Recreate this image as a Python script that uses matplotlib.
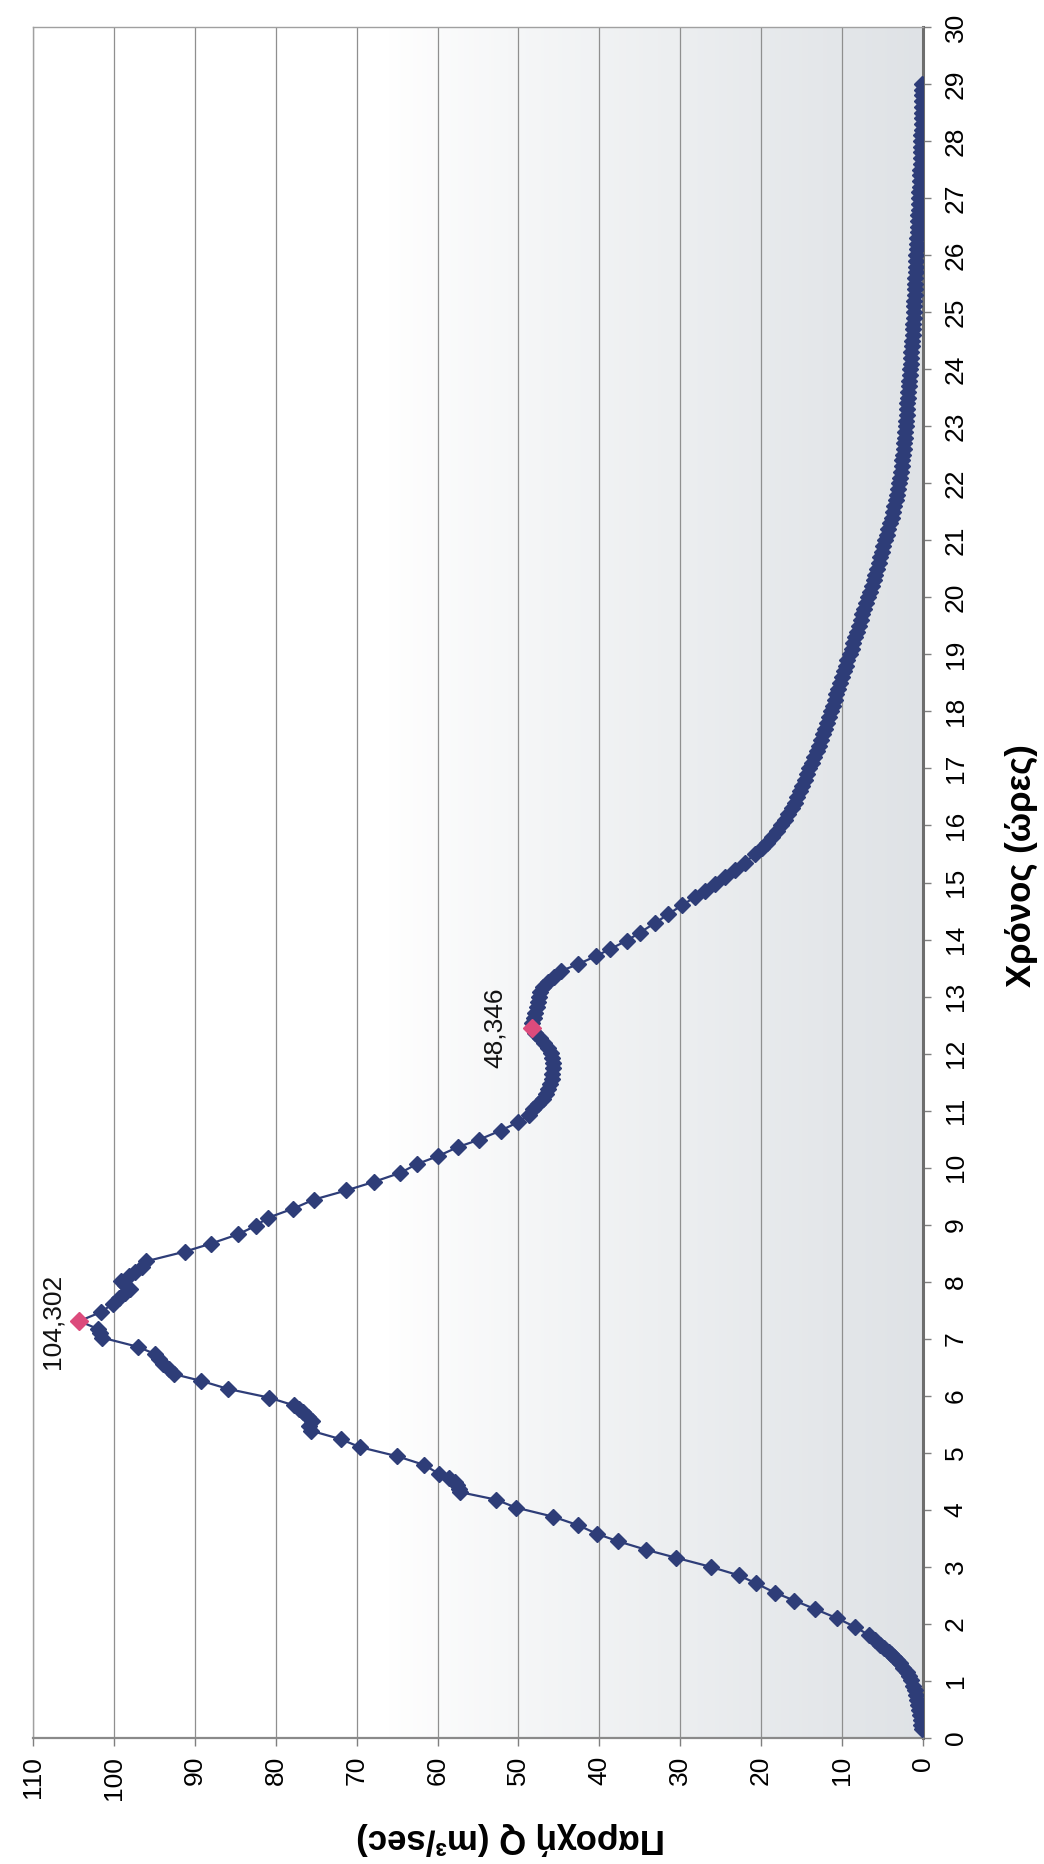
import matplotlib
matplotlib.use("Agg")
import matplotlib.pyplot as plt
import numpy as np

# Hydrograph: discharge Q (m3/s) against time (hours)
time_h = [
    0.15, 0.23, 0.31, 0.40, 0.49, 0.57, 0.66, 0.75, 0.84, 0.92,
    1.01, 1.08, 1.16, 1.23, 1.31, 1.37, 1.42, 1.47, 1.51, 1.57,
    1.63, 1.71, 1.80, 1.95, 2.10, 2.26, 2.41, 2.55, 2.71, 2.85,
    3.00, 3.16, 3.30, 3.45, 3.58, 3.73, 3.88, 4.04, 4.18, 4.31,
    4.37, 4.43, 4.49, 4.55, 4.63, 4.79, 4.94, 5.10, 5.24, 5.39,
    5.47, 5.56, 5.63, 5.71, 5.77, 5.83, 5.97, 6.12, 6.26, 6.38,
    6.47, 6.56, 6.65, 6.73, 6.86, 7.02, 7.10, 7.17, 7.31, 7.47,
    7.61, 7.72, 7.80, 7.87, 7.95, 8.02, 8.10, 8.17, 8.25, 8.36,
    8.53, 8.67, 8.83, 8.98, 9.12, 9.28, 9.44, 9.60, 9.75, 9.91,
    10.06, 10.20, 10.36, 10.49, 10.65, 10.80, 10.93, 11.03, 11.11, 11.20,
    11.29, 11.38, 11.47, 11.56, 11.65, 11.74, 11.83, 11.92, 12.01, 12.10,
    12.19, 12.28, 12.37, 12.45, 12.54, 12.63, 12.72, 12.81, 12.90, 12.99,
    13.08, 13.17, 13.26, 13.35, 13.45, 13.57, 13.71, 13.83, 13.98, 14.12,
    14.29, 14.44, 14.60, 14.74, 14.85, 14.97, 15.09, 15.22, 15.35, 15.50,
    15.6, 15.7, 15.8, 15.9, 16.0, 16.1, 16.2, 16.3, 16.4, 16.5,
    16.6, 16.7, 16.8, 16.9, 17.0, 17.1, 17.2, 17.3, 17.4, 17.5,
    17.6, 17.7, 17.8, 17.9, 18.0, 18.1, 18.2, 18.3, 18.4, 18.5,
    18.6, 18.7, 18.8, 18.9, 19.0, 19.1, 19.2, 19.3, 19.4, 19.5,
    19.6, 19.7, 19.8, 19.9, 20.0, 20.1, 20.2, 20.3, 20.4, 20.5,
    20.6, 20.7, 20.8, 20.9, 21.0, 21.1, 21.2, 21.3, 21.4, 21.5,
    21.6, 21.7, 21.8, 21.9, 22.0, 22.1, 22.2, 22.3, 22.4, 22.5,
    22.6, 22.7, 22.8, 22.9, 23.0, 23.1, 23.2, 23.3, 23.4, 23.5,
    23.6, 23.7, 23.8, 23.9, 24.0, 24.1, 24.2, 24.3, 24.4, 24.5,
    24.6, 24.7, 24.8, 24.9, 25.0, 25.1, 25.2, 25.3, 25.4, 25.5,
    25.6, 25.7, 25.8, 25.9, 26.0, 26.1, 26.2, 26.3, 26.4, 26.5,
    26.6, 26.7, 26.8, 26.9, 27.0, 27.1, 27.2, 27.3, 27.4, 27.5,
    27.6, 27.7, 27.8, 27.9, 28.0, 28.1, 28.2, 28.3, 28.4, 28.5,
    28.6, 28.7, 28.8, 28.9, 29.0,
]

flow_q = [
    0.10, 0.16, 0.25, 0.33, 0.41, 0.52, 0.66, 0.80, 0.95, 1.15,
    1.40, 1.68, 2.00, 2.40, 2.80, 3.20, 3.60, 3.95, 4.20, 4.75,
    5.30, 5.95, 6.60, 8.40, 10.6, 13.3, 15.9, 18.3, 20.6, 22.7,
    26.2, 30.5, 34.2, 37.7, 40.3, 42.6, 45.7, 50.3, 52.8, 57.2,
    57.4, 57.6, 57.9, 58.6, 59.8, 61.7, 65.0, 69.6, 72.0, 75.7,
    75.9, 75.5, 76.0, 76.7, 77.2, 77.7, 80.9, 85.9, 89.2, 92.6,
    93.2, 93.9, 94.4, 94.9, 97.1, 101.5, 101.8, 102.0, 104.302, 101.6,
    100.2, 99.4, 98.6, 98.0, 98.6, 99.1, 98.2, 97.4, 96.6, 96.0,
    91.2, 88.0, 84.7, 82.5, 81.0, 77.9, 75.3, 71.3, 67.9, 64.6,
    62.6, 60.0, 57.5, 54.9, 52.2, 50.0, 48.7, 48.2, 47.6, 47.0,
    46.6, 46.3, 46.1, 45.9, 45.8, 45.7, 45.7, 45.8, 46.0, 46.3,
    46.8, 47.3, 47.9, 48.346, 48.3, 48.1, 47.9, 47.7, 47.6, 47.5,
    47.3, 47.0, 46.4, 45.6, 44.7, 42.6, 40.4, 38.7, 36.6, 35.0,
    33.1, 31.5, 29.8, 28.2, 26.9, 25.7, 24.5, 23.2, 22.0, 20.7,
    19.9, 19.2, 18.6, 18.0, 17.5, 17.0, 16.6, 16.2, 15.8, 15.5,
    15.2, 14.9, 14.6, 14.3, 14.0, 13.7, 13.4, 13.1, 12.85, 12.6,
    12.35, 12.1, 11.85, 11.6, 11.4, 11.15, 10.9, 10.7, 10.45, 10.2,
    10.0, 9.75, 9.5, 9.3, 9.05, 8.8, 8.6, 8.35, 8.1, 7.9,
    7.65, 7.45, 7.2, 7.0, 6.75, 6.5, 6.25, 6.05, 5.85, 5.65,
    5.45, 5.25, 5.05, 4.85, 4.65, 4.45, 4.25, 4.05, 3.85, 3.65,
    3.5, 3.35, 3.2, 3.05, 2.92, 2.8, 2.7, 2.6, 2.5, 2.43,
    2.36, 2.3, 2.24, 2.18, 2.12, 2.06, 2.0, 1.94, 1.88, 1.82,
    1.76, 1.7, 1.65, 1.6, 1.55, 1.5, 1.45, 1.4, 1.35, 1.3,
    1.25, 1.2, 1.16, 1.12, 1.08, 1.05, 1.02, 0.99, 0.96, 0.93,
    0.90, 0.87, 0.83, 0.80, 0.77, 0.73, 0.70, 0.67, 0.63, 0.60,
    0.57, 0.54, 0.51, 0.48, 0.45, 0.42, 0.39, 0.36, 0.33, 0.30,
    0.27, 0.24, 0.21, 0.19, 0.17, 0.15, 0.13, 0.11, 0.10, 0.08,
    0.07, 0.06, 0.05, 0.04, 0.03,
]

# Highlighted peaks (main peak and secondary peak)
peak_times = [7.31, 12.45]
peak_flows = [104.302, 48.346]
peak_label_offsets = [-11, -18]

q_ticks = list(range(0, 111, 10))
t_ticks = list(range(0, 31))
q_axis_title = "Παροχή Q (m³/sec)"
t_axis_title = "Χρόνος (ώρες)"

plt.rcParams['font.family'] = ['Liberation Sans', 'DejaVu Sans']

navy = '#2e3d78'
pink = '#dc4b7c'

fig = plt.figure(figsize=(10.44, 18.64), dpi=100)
ax = fig.add_axes([0.0319, 0.0676, 0.8519, 0.9179])

# Plot-area fill: white fading to a light grey-blue towards Q = 0
u = np.linspace(0, 1, 256)
w = np.clip((u - 0.40) / 0.60, 0, 1) ** 0.85
c0 = np.array([1.0, 1.0, 1.0])
c1 = np.array([0.875, 0.888, 0.902])
rgb = c0[None, :] * (1 - w[:, None]) + c1[None, :] * w[:, None]
img = np.tile(rgb[None, :, :], (2, 1, 1))
ax.imshow(img, extent=[0, 1, 0, 1], transform=ax.transAxes,
          aspect='auto', zorder=0, interpolation='bilinear')

ax.plot(flow_q, time_h, '-', color=navy, lw=1.6, marker='D', ms=8.2,
        mfc=navy, mec=navy, zorder=3)
ax.plot(peak_flows, peak_times, 'D', color=pink, ms=9.5, zorder=4)

for q, t, dx in zip(peak_flows, peak_times, peak_label_offsets):
    ax.annotate(f"{q:.3f}".replace('.', ','), xy=(q, t), xytext=(dx, 0),
                textcoords='offset points', rotation=90, ha='right',
                va='center', fontsize=19, color='#111111', zorder=5)

ax.set_xlim(110, 0)
ax.set_ylim(0, 30)
ax.set_xticks(q_ticks)
ax.set_yticks(t_ticks)
ax.yaxis.tick_right()

ax.grid(axis='x', color='#8f8f8f', lw=0.9)
ax.grid(axis='y', visible=False)
ax.set_axisbelow(True)

ax.tick_params(axis='x', direction='out', length=6, width=1, color='#7f7f7f',
               labelsize=19, pad=7, labelrotation=90)
ax.tick_params(axis='y', direction='out', length=6, width=1, color='#7f7f7f',
               labelsize=19, pad=9, labelrotation=90)
for lab in ax.get_yticklabels():
    lab.set_va('center')
    lab.set_ha('left')
for lab in ax.get_xticklabels():
    lab.set_va('top')
    lab.set_ha('center')

ax.spines['right'].set(color='#6e6e6e', lw=2.2)
ax.spines['bottom'].set(color='#8a8a8a', lw=1.6)
ax.spines['top'].set(color='#a0a0a0', lw=1.0)
ax.spines['left'].set(color='#a0a0a0', lw=1.0)

fig.text(511 / 1044, 1 - 1838 / 1864, q_axis_title, rotation=180,
         ha='center', va='center', fontsize=25, fontweight='bold')
fig.text(1021 / 1044, 1 - 866 / 1864, t_axis_title, rotation=90,
         ha='center', va='center', fontsize=25, fontweight='bold')

fig.savefig('out.png', dpi=100, facecolor='white')
